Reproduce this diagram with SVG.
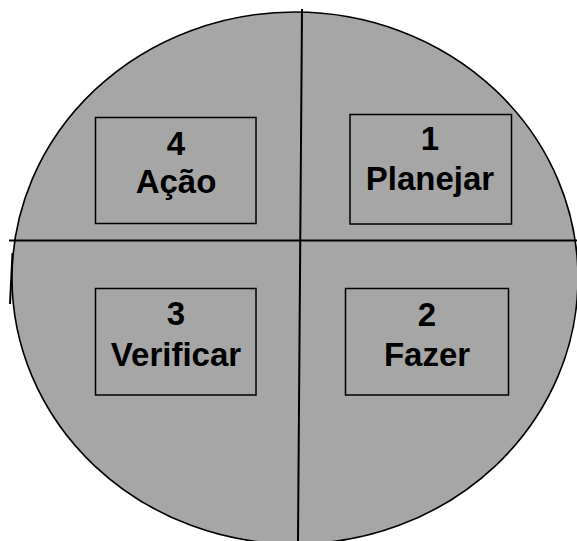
<svg xmlns="http://www.w3.org/2000/svg" width="577" height="541" viewBox="0 0 577 541">
  <style>
    .disc { fill: #a6a6a6; stroke: #000; stroke-width: 1.6; }
    .rule { stroke: #000; stroke-width: 2; fill: none; }
    .box { fill: #a6a6a6; stroke: #000; stroke-width: 1.5; }
    .lbl { font-family: "Liberation Sans", Arial, sans-serif; font-weight: bold; font-size: 33px; fill: #000; text-anchor: middle; }
  </style>
  <rect width="577" height="541" fill="#fff"/>
  <!-- background disc -->
  <ellipse class="disc" cx="295" cy="278" rx="283" ry="266"/>
  <!-- dividing lines -->
  <g id="connectors">
    <line class="rule" x1="302" y1="9" x2="298" y2="541"/>
    <line class="rule" x1="9" y1="240.5" x2="577" y2="240.5"/>
    <line class="rule" x1="12.5" y1="253" x2="10" y2="304"/>
  </g>
  <g id="acao">
    <rect class="box" x="95.5" y="117.5" width="160.5" height="106"/>
    <text class="lbl" x="176" y="155">4</text>
    <text class="lbl" x="176" y="193">Ação</text>
  </g>
  <g id="planejar">
    <rect class="box" x="350" y="114.5" width="161.5" height="109.5"/>
    <text class="lbl" x="430" y="150">1</text>
    <text class="lbl" x="430" y="190">Planejar</text>
  </g>
  <g id="verificar">
    <rect class="box" x="95.5" y="288.5" width="160.5" height="106.5"/>
    <text class="lbl" x="176" y="325">3</text>
    <text class="lbl" x="176" y="366">Verificar</text>
  </g>
  <g id="fazer">
    <rect class="box" x="345.5" y="288.5" width="163" height="106.5"/>
    <text class="lbl" x="427" y="325.5">2</text>
    <text class="lbl" x="427" y="366">Fazer</text>
  </g>
</svg>
